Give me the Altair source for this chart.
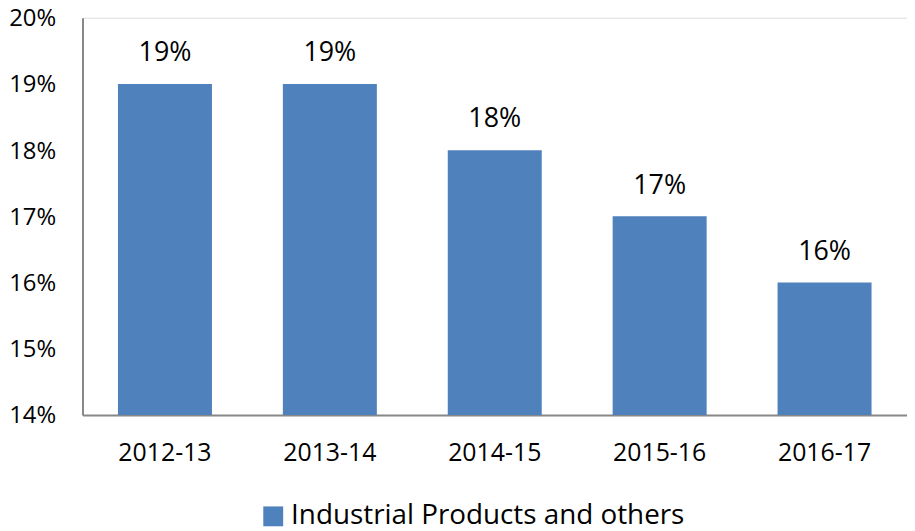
import altair as alt
import pandas as pd

years = ["2012-13", "2013-14", "2014-15", "2015-16", "2016-17"]
shares = [0.19, 0.19, 0.18, 0.17, 0.16]
series_name = "Industrial Products and others"
y_ticks = [0.14, 0.15, 0.16, 0.17, 0.18, 0.19, 0.20]

df = pd.DataFrame({"year": years, "share": shares, "series": [series_name] * len(years)})

FONT = "Open Sans"

base = alt.Chart(df).encode(
    x=alt.X("year:N", sort=years, title=None,
            scale=alt.Scale(paddingInner=0.43, paddingOuter=0.215),
            axis=alt.Axis(labelAngle=0, ticks=False, labelPadding=26,
                          labelFontSize=25, labelFont=FONT, labelColor="#000000",
                          domainColor="#888888", domainWidth=2)),
)

bars = base.mark_bar(color="#4F81BD").encode(
    y=alt.Y("share:Q", title=None,
            scale=alt.Scale(domain=[0.14, 0.20], zero=False, nice=False),
            axis=alt.Axis(values=y_ticks, format=".0%", ticks=False, grid=False,
                          labelPadding=27, labelFontSize=24, labelFont=FONT,
                          labelOffset=1,
                          labelColor="#000000", domainColor="#888888", domainWidth=2)),
    y2=alt.datum(0.14),
    color=alt.Color("series:N", title=None,
                    scale=alt.Scale(range=["#4F81BD"]),
                    legend=alt.Legend(orient="none", legendX=178, legendY=488,
                                      symbolType="square", symbolSize=400,
                                      symbolStrokeWidth=0, labelFontSize=28,
                                      labelFont=FONT, labelColor="#000000",
                                      labelLimit=700, labelOffset=4)),
)

labels = base.mark_text(baseline="bottom", dy=-17, fontSize=27, font=FONT,
                        color="#000000").encode(
    y=alt.Y("share:Q"),
    text=alt.Text("share:Q", format=".0%"),
)

chart = (bars + labels).properties(
    width=830, height=400,
    autosize=alt.AutoSizeParams(type="none"),
    padding={"left": 75, "top": 8, "right": 0, "bottom": 115},
).configure_view(stroke=None).configure(background="#ffffff")

chart.save("out.html", embed_options={"renderer": "svg", "actions": False})
